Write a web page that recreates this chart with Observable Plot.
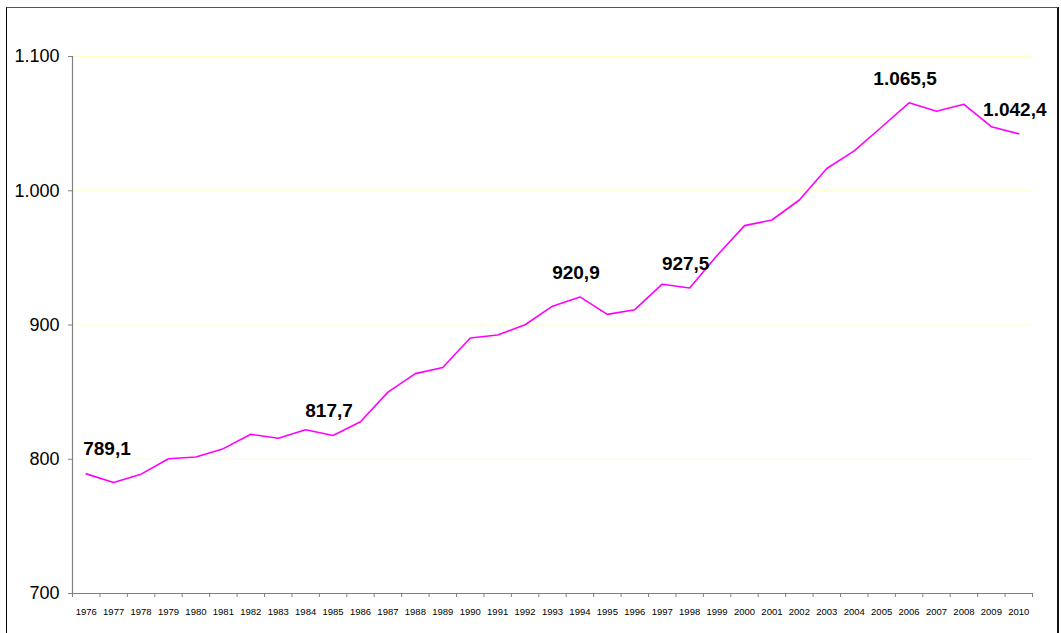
<!DOCTYPE html>
<html>
<head>
<meta charset="utf-8">
<script src="https://cdn.jsdelivr.net/npm/d3@7"></script>
<script src="https://cdn.jsdelivr.net/npm/@observablehq/plot@0.6"></script>
<style>
  html, body { margin: 0; padding: 0; background: #fff; overflow: hidden; }
  #wrap { position: relative; width: 1061px; height: 633px; }
  #border { position: absolute; left: 6px; top: 7px; width: 1050px; height: 640px;
            border: 1px solid #000; border-right: 2px solid #111; border-top-color: #555; pointer-events: none; }
  #chart { position: absolute; left: 0; top: 0; }
</style>
</head>
<body>
<div id="wrap"><div id="chart"></div><div id="border"></div></div>
<script>
const years = [1976,1977,1978,1979,1980,1981,1982,1983,1984,1985,1986,1987,1988,1989,1990,1991,1992,1993,1994,1995,1996,1997,1998,1999,2000,2001,2002,2003,2004,2005,2006,2007,2008,2009,2010];
const values = [789.1,782.6,788.9,800.4,801.7,807.9,818.6,815.6,822.0,817.7,827.9,850.0,863.8,868.3,890.3,892.5,900.2,914.0,920.9,907.9,911.4,930.4,927.5,951.8,974.0,978.2,993.1,1016.6,1029.7,1047.5,1065.5,1059.2,1064.4,1047.7,1042.4];
const labelYears = [1976,1985,1994,1998,2006,2010];
const labelTexts = ["789,1","817,7","920,9","927,5","1.065,5","1.042,4"];
const yTicks = [700,800,900,1000,1100];
const gridValues = [800,900,1000,1100];

const data = years.map((yr, i) => ({year: yr, value: values[i]}));
const labels = labelYears.map((yr, i) => ({year: yr, value: values[years.indexOf(yr)], text: labelTexts[i]}));
const boundaries = years.map(y => y - 0.5).concat([years[years.length - 1] + 0.5]);

const loc = d3.formatLocale({decimal: ",", thousands: ".", grouping: [3], currency: ["", ""]});
const fmt = loc.format(",d");

const chart = Plot.plot({
  width: 1061,
  height: 633,
  marginLeft: 72,
  marginRight: 29,
  marginTop: 56,
  marginBottom: 40,
  style: {fontFamily: "'Liberation Sans', Arial, sans-serif", background: "transparent", color: "#000"},
  x: {type: "linear", domain: [boundaries[0], boundaries[boundaries.length - 1]], axis: null, label: null},
  y: {domain: [yTicks[0], yTicks[yTicks.length - 1]], axis: null, label: null},
  marks: [
    Plot.ruleY(gridValues, {stroke: "#ffffc4", strokeWidth: 1}),
    Plot.ruleX([boundaries[0]], {stroke: "#808080", strokeWidth: 1.2}),
    Plot.ruleY([yTicks[0]], {stroke: "#808080", strokeWidth: 1.2}),
    Plot.axisY({ticks: yTicks, tickSize: 4, tickPadding: 9, tickFormat: fmt, stroke: "#808080", fill: "#000", fontSize: 18, label: null}),
    Plot.axisX({ticks: boundaries, tickSize: 4, tickFormat: () => "", stroke: "#808080", label: null}),
    Plot.axisX({ticks: years, tickSize: 0, tickPadding: 15, tickFormat: d => String(d), fill: "#000", fontSize: 9.5, label: null}),
    Plot.line(data, {x: "year", y: "value", stroke: "#ff00ff", strokeWidth: 1.6}),
    Plot.text(labels.slice(0, 1), {x: "year", y: "value", text: "text", textAnchor: "start", lineAnchor: "bottom", dx: -3, dy: -19, fontSize: 19, fontWeight: "bold", fill: "#000"}),
    Plot.text(labels.slice(1), {x: "year", y: "value", text: "text", lineAnchor: "bottom", dx: -4, dy: -18, fontSize: 19, fontWeight: "bold", fill: "#000"})
  ]
});
document.getElementById("chart").appendChild(chart);
</script>
</body>
</html>
